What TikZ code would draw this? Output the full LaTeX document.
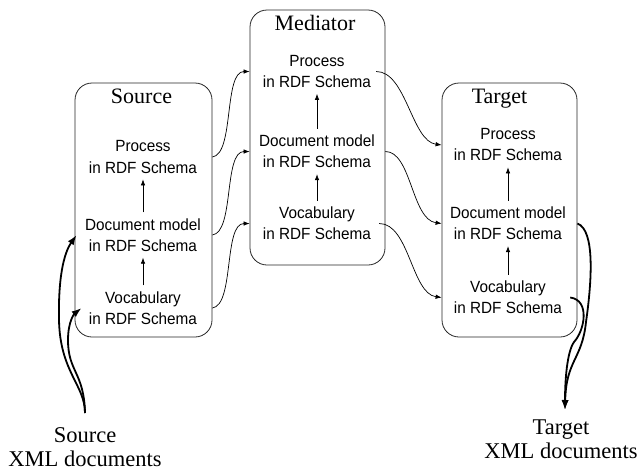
\documentclass[tikz,border=0pt]{standalone}
\usepackage{fontspec}
\setmainfont{Liberation Serif}
\newfontfamily\arialfont[FakeStretch=0.945]{Liberation Sans}
\usetikzlibrary{arrows.meta,calc}
\begin{document}
\begin{tikzpicture}[x=1pt,y=-1pt,
  box/.style={draw=black!85,line width=0.8pt,rounded corners=17pt,inner sep=0pt},
  title/.style={font=\fontsize{22}{24}\selectfont,inner sep=0pt},
  layer/.style={font=\arialfont\fontsize{16.2}{21}\selectfont,align=center,inner xsep=2pt,inner ysep=6pt},
  up/.style={-{Latex[length=6pt,width=4.5pt]},line width=0.7pt},
  link/.style={-{Latex[length=6pt,width=4.5pt]},line width=0.7pt},
  heavy/.style={-{Latex[length=10pt,width=7pt]},line width=1.8pt},
  ext/.style={font=\fontsize{22.5}{24}\selectfont,align=center,inner sep=0pt}]
\useasboundingbox (0,0) rectangle (639,472);

% the three schema stacks
\node[box,minimum width=137pt,minimum height=254pt] (sbox) at (143.5,210) {};
\node[box,minimum width=135pt,minimum height=255pt] (mbox) at (317.5,137.5) {};
\node[box,minimum width=135pt,minimum height=254pt] (tbox) at (509.5,210) {};

\node[title] (stitle) at (141.5,96) {Source};
\node[title] (mtitle) at (315,23) {Mediator};
\node[title] (ttitle) at (499.5,99) {Target};

% Source layers
\node[layer] (sp) at (143,157) {Process\\in RDF Schema};
\node[layer] (sd) at (143,235) {Document model\\in RDF Schema};
\node[layer] (sv) at (143,308) {Vocabulary\\in RDF Schema};
% Mediator layers
\node[layer] (mp) at (317,71.5) {Process\\in RDF Schema};
\node[layer] (md) at (317,151.5) {Document model\\in RDF Schema};
\node[layer] (mv) at (317,223.5) {Vocabulary\\in RDF Schema};
% Target layers
\node[layer] (tp) at (508,145) {Process\\in RDF Schema};
\node[layer] (td) at (508,223.5) {Document model\\in RDF Schema};
\node[layer] (tv) at (508,297.5) {Vocabulary\\in RDF Schema};

% layering inside each stack
\foreach \a/\b in {sv/sd,sd/sp,mv/md,md/mp,tv/td,td/tp}
  \draw[up] (\a.north) -- (\b.south);

% source -> mediator
\draw[link] (sbox.east |- sp) .. controls +(22,-3) and +(-26,0) .. (mbox.west |- mp);
\draw[link] (sbox.east |- sd) .. controls +(22,-3) and +(-26,0) .. (mbox.west |- md);
\draw[link] (sbox.east |- sv) .. controls +(22,-3) and +(-26,0) .. (mbox.west |- mv);

% mediator -> target
\draw[link] ([xshift=3pt]mp.east) .. controls +(30,0) and +(-30,-4) .. (tbox.west |- tp);
\draw[link] (mbox.east |- md) .. controls +(26,0) and +(-30,-4) .. (tbox.west |- td);
\draw[link] ([xshift=6pt]mv.east) .. controls +(30,0) and +(-30,-4) .. (tbox.west |- tv);

% external documents
\node[ext] (sxml) at (85,447.5) {Source\\XML documents};
\node[ext] (txml) at (561,439) {Target\\XML documents};
\coordinate (srcin) at (85,413);
\coordinate (tgtout) at (565,410);

\draw[heavy] (srcin) .. controls (85,385) and (60,372) .. (59,320)
  .. controls (58,270) and (66,250) .. ([xshift=2pt]sbox.west |- sd);
\draw[heavy] (srcin) .. controls (84,372) and (68,372) .. (68,340)
  .. controls (68,322) and (74,314) .. ([xshift=7pt]sbox.west |- sv);

\draw[heavy] (tbox.east |- td) .. controls (595,230) and (592,280) .. (586,322)
  .. controls (582,360) and (566,360) .. (tgtout);
\draw[heavy] ([xshift=6pt]tv.east) .. controls (590,300) and (585,330) .. (574,342)
  .. controls (567,352) and (565,380) .. (tgtout);
\end{tikzpicture}
\end{document}
